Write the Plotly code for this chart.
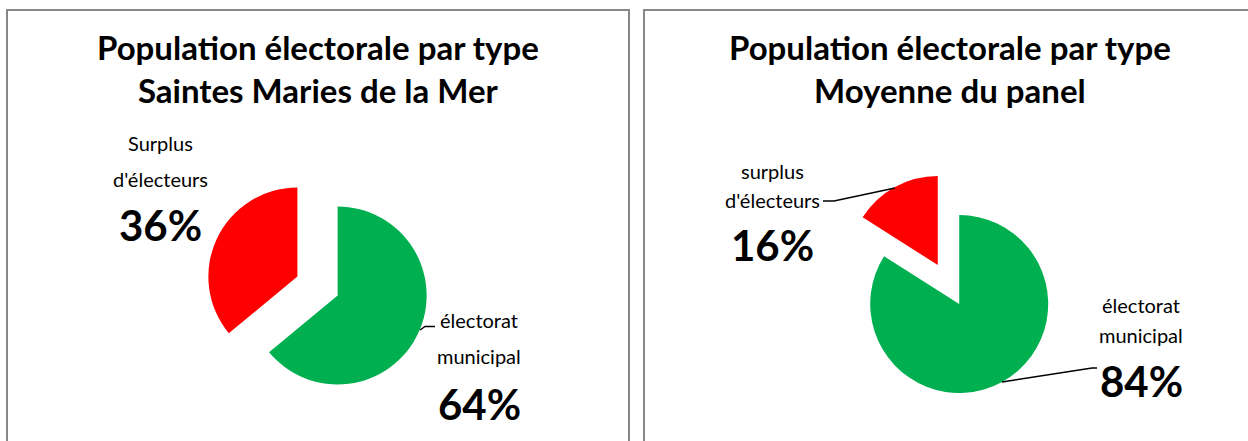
import plotly.graph_objects as go

W, H = 1248, 441

# ---- data ----
panel_titles = ["Saintes Maries de la Mer", "Moyenne du panel"]
title_line1 = "Population électorale par type"
# slices in drawing order (clockwise from 12 o'clock)
labels_left = ["électorat municipal", "Surplus d'électeurs"]
labels_right = ["électorat municipal", "surplus d'électeurs"]
values_left = [64, 36]
values_right = [84, 16]
colors = ["#00B050", "#FF0000"]

FONT = "Lato"


def px(x):
    return x / W


def py(y):
    return 1 - y / H


def dom(cx, cy, size=222.5):
    h = size / 2
    return dict(x=[px(cx - h), px(cx + h)], y=[py(cy + h), py(cy - h)])


fig = go.Figure()
for vals, labs, (cx, cy) in [
    (values_left, labels_left, (317.5, 286)),
    (values_right, labels_right, (948.5, 284.5)),
]:
    fig.add_trace(go.Pie(
        values=vals, labels=labs, sort=False, direction="clockwise",
        rotation=0, pull=[0.25, 0.25], marker=dict(colors=colors),
        textinfo="none", hoverinfo="label+percent", showlegend=False,
        domain=dom(cx, cy),
    ))

ann = []


def text(x, baseline, s, size, bold=False):
    ann.append(dict(
        x=px(x), y=py(baseline - 0.34 * size), xref="paper", yref="paper",
        text=f"<b>{s}</b>" if bold else s, showarrow=False,
        xanchor="center", yanchor="middle",
        font=dict(family=FONT, size=size, color="#000000"),
    ))


TS = 33
# titles (two lines, one text each)
text(317.5, 80, f"{title_line1}<br>{panel_titles[0]}", TS, bold=True)
text(949.5, 80, f"{title_line1}<br>{panel_titles[1]}", TS, bold=True)

LS = 20
BS = 42
# left pie labels
w0 = labels_left[1].split(" ")
text(160, 150, w0[0], LS)
text(160, 186, w0[1], LS)
text(160, 239, f"{values_left[1]}%", BS, bold=True)
w1 = labels_left[0].split(" ")
text(479, 327, w1[0], LS)
text(479, 363, w1[1], LS)
text(479, 418, f"{values_left[0]}%", BS, bold=True)

# right pie labels
w0 = labels_right[1].split(" ")
text(772, 178, w0[0], LS)
text(772, 207, w0[1], LS)
text(772, 259, f"{values_right[1]}%", BS, bold=True)
w1 = labels_right[0].split(" ")
text(1141, 312, w1[0], LS)
text(1141, 342, w1[1], LS)
text(1141, 395, f"{values_right[0]}%", BS, bold=True)

shapes = []
border = dict(color="#878787", width=2)
shapes.append(dict(type="rect", xref="paper", yref="paper",
                   x0=px(7), x1=px(629), y0=py(H + 10), y1=py(10), line=border))
shapes.append(dict(type="rect", xref="paper", yref="paper",
                   x0=px(644), x1=px(W + 10), y0=py(H + 10), y1=py(10), line=border))


def path(pts):
    d = "M " + " L ".join(f"{px(x)},{py(y)}" for x, y in pts)
    shapes.append(dict(type="path", xref="paper", yref="paper", path=d,
                       line=dict(color="#000000", width=1.5)))


path([(420, 330), (425, 326.5), (435, 326.5)])
path([(823, 201), (834, 201), (895, 188)])
path([(1002, 382), (1092, 368), (1097, 368)])

fig.update_layout(
    width=W, height=H, autosize=False,
    margin=dict(l=0, r=0, t=0, b=0),
    paper_bgcolor="#FFFFFF", plot_bgcolor="#FFFFFF",
    annotations=ann, shapes=shapes,
    font=dict(family=FONT),
)

fig.write_html(
    "out.html",
    config={"displayModeBar": False},
    post_script="document.body.style.margin='0';document.body.style.overflow='hidden';",
)
